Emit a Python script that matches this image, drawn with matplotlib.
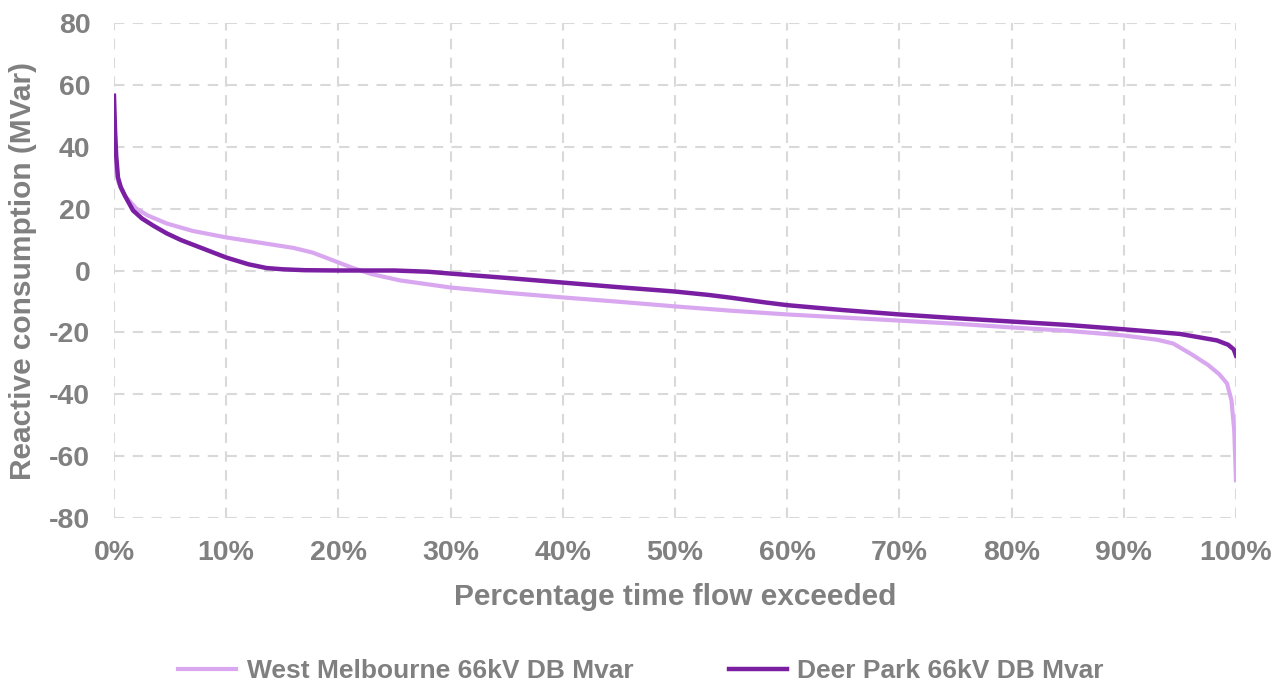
import matplotlib
matplotlib.use("Agg")
import matplotlib.pyplot as plt
from matplotlib.ticker import FuncFormatter

plt.rcParams['font.family'] = ['Liberation Sans', 'DejaVu Sans']
plt.rcParams['axes.unicode_minus'] = False

# Percentage of time (x) and reactive consumption (MVar)
wm_pct = [0.0, 0.2, 0.4, 0.7, 1.0, 1.5, 2.0, 3.0, 4.7, 7.0, 10.0, 13.0, 16.0, 17.7, 19.0,
          20.0, 21.3, 23.0, 25.5, 30.0, 35.0, 40.0, 45.0, 50.0, 55.0, 60.0, 65.0, 70.0,
          75.0, 80.0, 85.0, 90.0, 93.0, 94.4, 96.0, 97.5, 98.5, 99.2, 99.6, 99.85, 100.0]
wm_val = [40.0, 32.0, 28.5, 26.0, 24.0, 22.0, 20.0, 17.8, 15.2, 12.8, 10.7, 9.0, 7.3, 5.8, 4.0,
          2.6, 0.8, -1.2, -3.2, -5.5, -7.2, -8.7, -10.1, -11.6, -13.0, -14.2, -15.2, -16.2,
          -17.2, -18.4, -19.5, -21.0, -22.4, -23.6, -27.0, -30.5, -33.5, -36.5, -42.0, -52.0, -67.8]

dp_pct = [0.0, 0.1, 0.2, 0.36, 0.6, 1.0, 1.7, 2.5, 3.5, 4.7, 6.0, 8.0, 10.0, 12.0, 13.6,
          15.0, 17.0, 20.0, 25.0, 28.0, 30.0, 35.0, 40.0, 45.0, 50.0, 53.0, 55.0, 58.0,
          60.0, 65.0, 70.0, 75.0, 80.0, 85.0, 90.0, 95.0, 98.3, 99.3, 99.8, 100.0]
dp_val = [56.5, 45.0, 37.0, 30.0, 27.0, 24.0, 19.4, 16.8, 14.5, 12.0, 9.8, 7.0, 4.2, 2.0, 0.8,
          0.4, 0.1, 0.0, 0.0, -0.4, -1.0, -2.4, -3.9, -5.4, -6.8, -7.9, -8.8, -10.3,
          -11.2, -12.8, -14.2, -15.4, -16.5, -17.6, -19.0, -20.5, -22.6, -24.0, -25.5, -27.5]

x_ticks = list(range(0, 101, 10))
y_ticks = list(range(-80, 81, 20))

wm_color = '#D9A7EF'
dp_color = '#7A1FA2'
text_color = '#808080'

fig = plt.figure(figsize=(12.82, 6.89), dpi=100)
ax = fig.add_axes([0.0889, 0.2482, 0.8752, 0.7184])

ax.plot(wm_pct, wm_val, color=wm_color, lw=3.0, label='West Melbourne 66kV DB Mvar')
ax.plot(dp_pct, dp_val, color=dp_color, lw=3.2, label='Deer Park 66kV DB Mvar')

ax.set_xlim(0, 100)
ax.set_ylim(-80, 80)
ax.set_xticks(x_ticks)
ax.set_yticks(y_ticks)
ax.xaxis.set_major_formatter(FuncFormatter(lambda v, p: f"{int(round(v))}%"))
ax.grid(True, color='#D9D9D9', linestyle=(0, (5, 4)), lw=1.5)
ax.set_axisbelow(True)
for s in ax.spines.values():
    s.set_visible(False)
ax.tick_params(length=0, colors=text_color, labelsize=20.5)
ax.tick_params(axis='x', pad=16)
ax.tick_params(axis='y', pad=17)
for lbl in ax.get_xticklabels() + ax.get_yticklabels():
    lbl.set_fontweight('bold')

ax.set_xlabel('Percentage time flow exceeded', fontsize=21.5, fontweight='bold',
              color=text_color, labelpad=12)
ax.set_ylabel('Reactive consumption (MVar)', fontsize=21.5, fontweight='bold',
              color=text_color, labelpad=9)

leg = fig.legend(loc='center', bbox_to_anchor=(0.5, 0.026), ncol=2, frameon=False,
                 fontsize=19, handlelength=2.2, columnspacing=3.6, handletextpad=0.4,
                 borderpad=0.1)
for t in leg.get_texts():
    t.set_color(text_color)
    t.set_fontweight('bold')

fig.savefig('out.png', dpi=100)
